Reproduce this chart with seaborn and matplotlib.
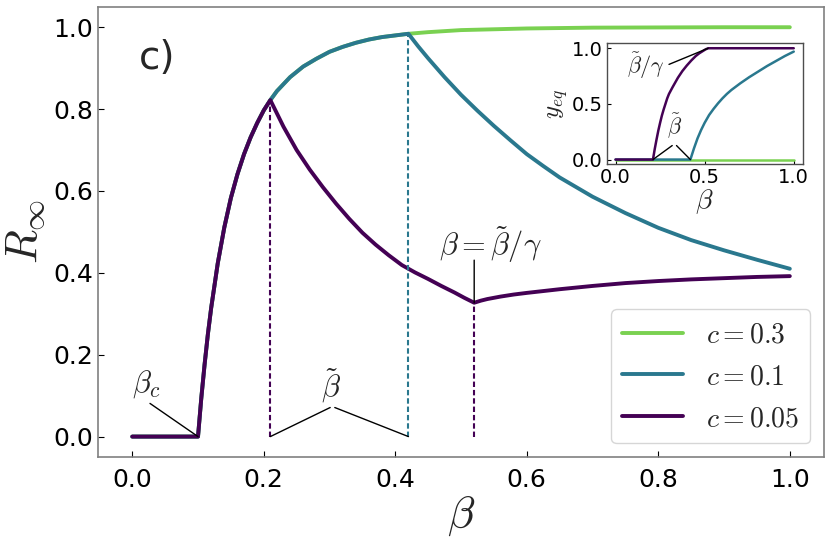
import numpy as np
import matplotlib
matplotlib.use("Agg")
import matplotlib.pyplot as plt
import seaborn as sns

# ---- data ----
# common part of the three curves (R_inf = 0 below beta_c, then the rise)
beta_common = [0.0, 0.10, 0.105, 0.11, 0.115, 0.12, 0.13, 0.14, 0.15, 0.16,
               0.17, 0.18, 0.19, 0.20, 0.21]
R_common = [0.0, 0.0, 0.094, 0.176, 0.25, 0.314, 0.423, 0.511, 0.583, 0.641,
            0.69, 0.731, 0.766, 0.797, 0.822]

# shared by c=0.3 and c=0.1 up to beta_tilde(c=0.1)
beta_upper = [0.22, 0.24, 0.26, 0.28, 0.30, 0.32, 0.34, 0.36, 0.38, 0.40, 0.42]
R_upper = [0.844, 0.878, 0.904, 0.923, 0.940, 0.952, 0.962, 0.970, 0.976, 0.980, 0.984]

# c = 0.3 tail
beta_c03 = [0.45, 0.50, 0.55, 0.60, 0.70, 0.80, 0.90, 1.0]
R_c03 = [0.988, 0.993, 0.995, 0.997, 0.999, 0.9995, 1.0, 1.0]

# c = 0.1 tail
beta_c01 = [0.435, 0.45, 0.475, 0.50, 0.525, 0.55, 0.575, 0.60, 0.625, 0.65, 0.70,
            0.75, 0.80, 0.85, 0.90, 0.95, 1.0]
R_c01 = [0.953, 0.924, 0.878, 0.835, 0.796, 0.759, 0.724, 0.690, 0.661, 0.633, 0.586,
         0.546, 0.510, 0.480, 0.455, 0.432, 0.41]

# c = 0.05 tail
beta_c005 = [0.23, 0.25, 0.27, 0.29, 0.31, 0.33, 0.35, 0.37, 0.39, 0.41, 0.43, 0.45,
             0.47, 0.49, 0.505, 0.52, 0.53, 0.54, 0.56, 0.58, 0.60, 0.65, 0.70, 0.75,
             0.80, 0.85, 0.90, 0.95, 1.0]
R_c005 = [0.757, 0.700, 0.652, 0.609, 0.569, 0.532, 0.498, 0.469, 0.443, 0.419, 0.401,
          0.385, 0.368, 0.352, 0.339, 0.327, 0.332, 0.336, 0.342, 0.347, 0.351, 0.360,
          0.368, 0.375, 0.380, 0.384, 0.387, 0.390, 0.392]

# inset: y_eq
beta_in_c03 = [0.0, 1.0]
y_in_c03 = [0.0, 0.0]
beta_in_c01 = [0.0, 0.42, 0.43, 0.44, 0.45, 0.46, 0.48, 0.50, 0.525, 0.55, 0.575,
               0.60, 0.625, 0.65, 0.70, 0.75, 0.80, 0.85, 0.90, 0.95, 1.0]
y_in_c01 = [0.0, 0.0, 0.05, 0.10, 0.145, 0.19, 0.265, 0.33, 0.40, 0.455, 0.505,
            0.55, 0.59, 0.625, 0.685, 0.74, 0.79, 0.84, 0.885, 0.93, 0.97]
beta_in_c005 = [0.0, 0.21, 0.22, 0.23, 0.24, 0.25, 0.26, 0.27, 0.28, 0.29, 0.30, 0.32,
                0.35, 0.375, 0.40, 0.425, 0.45, 0.47, 0.49, 0.505, 0.52, 1.0]
y_in_c005 = [0.0, 0.0, 0.095, 0.18, 0.26, 0.33, 0.395, 0.45, 0.50, 0.55, 0.59, 0.65,
             0.735, 0.795, 0.845, 0.89, 0.93, 0.955, 0.975, 0.99, 1.0, 1.0]

labels = [r"$c=0.3$", r"$c=0.1$", r"$c=0.05$"]
colors = ["#7ad151", "#2a788e", "#440154"]

# build full series
b03 = beta_common + beta_upper + beta_c03
r03 = R_common + R_upper + R_c03
b01 = beta_common + beta_upper + beta_c01
r01 = R_common + R_upper + R_c01
b005 = beta_common + beta_c005
r005 = R_common + R_c005

sns.set_theme(style="ticks")
plt.rcParams["mathtext.fontset"] = "cm"
plt.rcParams["font.family"] = ["DejaVu Sans"]

fig = plt.figure(figsize=(8.31, 5.5), dpi=100)
ax = fig.add_axes([0.118, 0.169, 0.8736, 0.8187])

for b, r, lab, col in zip([b03, b01, b005], [r03, r01, r005], labels, colors):
    sns.lineplot(x=b, y=r, color=col, linewidth=2.8, label=lab, ax=ax, sort=False)

# dashed markers at the kinks
dash = (0, (2.6, 1.4))
i_pk = R_common.index(max(R_common))
ax.plot([beta_common[i_pk]] * 2, [0, R_common[i_pk]], color=colors[2], lw=1.5, ls=dash)
ax.plot([beta_upper[-1]] * 2, [0, R_upper[-1]], color=colors[1], lw=1.5, ls=dash)
i_min = R_c005.index(min(R_c005))
ax.plot([beta_c005[i_min]] * 2, [0, R_c005[i_min]], color=colors[2], lw=1.5, ls=dash)

line = dict(arrowstyle="-", lw=1.0, color="black", shrinkA=0, shrinkB=0)
ax.text(0.022, 0.128, r"$\beta_c$", fontsize=22, ha="center", va="center")
ax.annotate("", xy=(0.1, 0.0), xytext=(0.027, 0.081), arrowprops=line)
ax.text(0.303, 0.125, r"$\tilde{\beta}$", fontsize=22, ha="center", va="center")
ax.annotate("", xy=(beta_common[i_pk], 0.0), xytext=(0.301, 0.071), arrowprops=line)
ax.annotate("", xy=(beta_upper[-1], 0.0), xytext=(0.308, 0.071), arrowprops=line)
ax.text(0.545, 0.468, r"$\beta=\tilde{\beta}/\gamma$", fontsize=22, ha="center", va="center")
ax.annotate("", xy=(beta_c005[i_min], R_c005[i_min]), xytext=(beta_c005[i_min], 0.431),
            arrowprops=line)

ax.text(0.038, 0.925, "c)", fontsize=28, ha="center", va="center")

ax.set_xlim(-0.052, 1.052)
ax.set_ylim(-0.05, 1.05)
ax.set_xticks([0.0, 0.2, 0.4, 0.6, 0.8, 1.0])
ax.set_yticks([0.0, 0.2, 0.4, 0.6, 0.8, 1.0])
ax.set_xticklabels(["0.0", "0.2", "0.4", "0.6", "0.8", "1.0"])
ax.set_yticklabels(["0.0", "0.2", "0.4", "0.6", "0.8", "1.0"])
ax.tick_params(direction="in", length=4, width=0.8, colors="black", labelsize=18,
               bottom=True, left=True)
ax.tick_params(axis="x", pad=8)
ax.set_xlabel(r"$\beta$", fontsize=32, labelpad=2)
ax.set_ylabel(r"$R_{\infty}$", fontsize=32, labelpad=4)
for s in ax.spines.values():
    s.set_visible(True)
    s.set_color("0.5")
    s.set_linewidth(1.2)

ax.legend(loc="lower right", fontsize=20, handlelength=2.2, frameon=True)

# ---- inset ----
axin = fig.add_axes([0.730, 0.7018, 0.2359, 0.2206])
for b, y, col in zip([beta_in_c03, beta_in_c01, beta_in_c005],
                     [y_in_c03, y_in_c01, y_in_c005], colors):
    sns.lineplot(x=b, y=y, color=col, linewidth=1.8, ax=axin, sort=False)

small = dict(arrowstyle="-", lw=1.0, color="black", shrinkA=0, shrinkB=0)
axin.text(0.17, 0.84, r"$\tilde{\beta}/\gamma$", fontsize=16, ha="center", va="center")
axin.annotate("", xy=(beta_in_c005[-2], 1.0), xytext=(0.30, 0.855), arrowprops=small)
axin.text(0.33, 0.30, r"$\tilde{\beta}$", fontsize=16, ha="center", va="center")
axin.annotate("", xy=(beta_in_c005[1], 0.0), xytext=(0.318, 0.126), arrowprops=small)
axin.annotate("", xy=(beta_in_c01[1], 0.0), xytext=(0.342, 0.126), arrowprops=small)

axin.set_xlim(-0.05, 1.05)
axin.set_ylim(-0.04, 1.05)
axin.set_xticks([0.0, 0.5, 1.0])
axin.set_yticks([0.0, 0.5, 1.0])
axin.set_xticklabels(["0.0", "0.5", "1.0"])
axin.set_yticklabels(["0.0", "0.5", "1.0"])
axin.tick_params(direction="in", length=3, width=0.8, colors="black", labelsize=14,
                 bottom=True, left=True, pad=3)
axin.set_xlabel(r"$\beta$", fontsize=20, labelpad=0)
axin.set_ylabel(r"$y_{eq}$", fontsize=18, labelpad=1)
for s in axin.spines.values():
    s.set_visible(True)
    s.set_color("0.3")
    s.set_linewidth(1.0)

fig.savefig("out.png", dpi=100)
